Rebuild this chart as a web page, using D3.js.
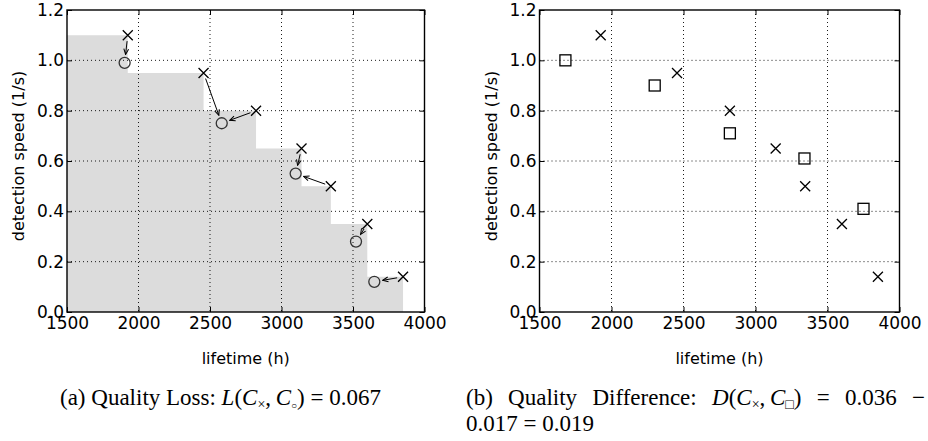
<!DOCTYPE html>
<html>
<head>
<meta charset="utf-8">
<script src="https://cdn.jsdelivr.net/npm/d3@7"></script>
<style>
  body { margin: 0; background: #fff; }
  svg { display: block; }
</style>
</head>
<body>
<svg id="fig" width="928" height="441"></svg>
<script>
(() => {
    const lifetimeTicks = [1500, 2000, 2500, 3000, 3500, 4000];
    const speedTicks = [0, 0.2, 0.4, 0.6, 0.8, 1.0, 1.2];

    // C× points, same in both panels
    const crossLifetime = [1925, 2455, 2822, 3140, 3345, 3600, 3850];
    const crossSpeed = [1.10, 0.95, 0.80, 0.65, 0.50, 0.35, 0.14];

    // C∘ points (left panel) and which circle each cross moves to
    const circleLifetime = [1903, 2582, 3099, 3521, 3649];
    const circleSpeed = [0.99, 0.75, 0.55, 0.28, 0.12];
    const crossToCircle = [0, 1, 1, 2, 2, 3, 4];

    // C□ points (right panel)
    const squareLifetime = [1680, 2300, 2822, 3340, 3750];
    const squareSpeed = [1.00, 0.90, 0.71, 0.61, 0.41];

    const top = 10, bottom = 312;
    const tickFont = "'DejaVu Sans', sans-serif";
    const circleR = 5.5;

    const svg = d3.select("#fig");

    svg.append("defs").append("marker")
        .attr("id", "head")
        .attr("markerUnits", "userSpaceOnUse")
        .attr("viewBox", "-7 -4 8 8")
        .attr("markerWidth", 8).attr("markerHeight", 8)
        .attr("refX", 0).attr("refY", 0)
        .attr("orient", "auto")
        .append("path")
        .attr("d", "M-5.5,-2.4L0,0L-5.5,2.4")
        .attr("fill", "none")
        .attr("stroke", "#000")
        .attr("stroke-width", 1);

    const crosses = crossLifetime.map((d, i) => ({ life: d, speed: crossSpeed[i] }));

    function panel(left, right) {
        const x = d3.scaleLinear().domain([1500, 4000]).range([left, right]);
        const y = d3.scaleLinear().domain([0, 1.2]).range([bottom, top]);
        const g = svg.append("g");
        const back = g.append("g");

        // dotted grid
        g.selectAll(".gx").data(lifetimeTicks.slice(1, -1)).enter().append("line")
            .attr("x1", d => x(d)).attr("x2", d => x(d))
            .attr("y1", top).attr("y2", bottom)
            .attr("stroke", "#000").attr("stroke-width", 0.9)
            .attr("stroke-dasharray", "1,3");
        g.selectAll(".gy").data(speedTicks.slice(1, -1)).enter().append("line")
            .attr("x1", left).attr("x2", right)
            .attr("y1", d => y(d)).attr("y2", d => y(d))
            .attr("stroke", "#000").attr("stroke-width", 0.9)
            .attr("stroke-dasharray", "1,3");

        const axes = [
            [d3.axisBottom(x).tickFormat(d3.format("d")), `translate(0,${bottom})`],
            [d3.axisLeft(y).tickFormat(d3.format(".1f")), `translate(${left},0)`],
            [d3.axisTop(x).tickFormat(""), `translate(0,${top})`],
            [d3.axisRight(y).tickFormat(""), `translate(${right},0)`]
        ];
        axes.forEach(([ax, tr], i) => {
            const a = g.append("g")
                .attr("transform", tr)
                .call(ax.tickValues(i % 2 === 0 ? lifetimeTicks : speedTicks)
                    .tickSizeInner(-5).tickSizeOuter(0).tickPadding(i === 0 ? 5 : 3));
            a.select(".domain").remove();
            a.selectAll("line").attr("stroke-width", 1);
            a.selectAll("text")
                .attr("font-family", tickFont)
                .attr("font-size", 17)
                .attr("fill", "#000");
        });

        g.append("rect")
            .attr("x", left).attr("y", top)
            .attr("width", right - left).attr("height", bottom - top)
            .attr("fill", "none").attr("stroke", "#000").attr("stroke-width", 1.4);

        g.append("text")
            .attr("x", (left + right) / 2).attr("y", 364)
            .attr("text-anchor", "middle")
            .attr("font-family", tickFont).attr("font-size", 16)
            .text("lifetime (h)");

        g.append("text")
            .attr("transform", `translate(${left - 43},${(top + bottom) / 2 - 5}) rotate(-90)`)
            .attr("text-anchor", "middle")
            .attr("font-family", tickFont).attr("font-size", 16)
            .text("detection speed (1/s)");

        return { g, back, x, y };
    }

    function drawCrosses(p) {
        p.g.selectAll(".cross").data(crosses).enter().append("path")
            .attr("transform", d => `translate(${p.x(d.life)},${p.y(d.speed)})`)
            .attr("d", "M-5,-5L5,5M-5,5L5,-5")
            .attr("stroke", "#000").attr("stroke-width", 1.3)
            .attr("fill", "none");
    }

    // ---- left panel: quality loss ----
    const pa = panel(67, 424.5);

    const areaPts = [{ life: 1500, speed: crossSpeed[0] }].concat(crosses);
    pa.back.append("path")
        .datum(areaPts)
        .attr("d", d3.area()
            .x(d => pa.x(d.life))
            .y0(pa.y(0))
            .y1(d => pa.y(d.speed))
            .curve(d3.curveStepBefore))
        .attr("fill", "#dcdcdc");

    const circles = circleLifetime.map((d, i) => ({ life: d, speed: circleSpeed[i] }));

    pa.g.selectAll(".arrow").data(crosses).enter().append("line")
        .each(function (d, i) {
            const c = circles[crossToCircle[i]];
            const x0 = pa.x(d.life), y0 = pa.y(d.speed);
            const x1 = pa.x(c.life), y1 = pa.y(c.speed);
            const len = Math.hypot(x1 - x0, y1 - y0);
            const ux = (x1 - x0) / len, uy = (y1 - y0) / len;
            d3.select(this)
                .attr("x1", x0 + ux * 6).attr("y1", y0 + uy * 6)
                .attr("x2", x1 - ux * (circleR + 3)).attr("y2", y1 - uy * (circleR + 3));
        })
        .attr("stroke", "#000").attr("stroke-width", 1)
        .attr("marker-end", "url(#head)");

    pa.g.selectAll(".circ").data(circles).enter().append("circle")
        .attr("cx", d => pa.x(d.life)).attr("cy", d => pa.y(d.speed))
        .attr("r", circleR)
        .attr("fill", "none").attr("stroke", "#333").attr("stroke-width", 1.3);

    drawCrosses(pa);

    // ---- right panel: quality difference ----
    const pb = panel(539.5, 899.5);

    const squares = squareLifetime.map((d, i) => ({ life: d, speed: squareSpeed[i] }));
    pb.g.selectAll(".sq").data(squares).enter().append("rect")
        .attr("x", d => pb.x(d.life) - 5.5).attr("y", d => pb.y(d.speed) - 5.5)
        .attr("width", 11).attr("height", 11)
        .attr("fill", "none").attr("stroke", "#000").attr("stroke-width", 1.3);

    drawCrosses(pb);

    // ---- captions ----
    const capFont = "'Liberation Serif', 'Times New Roman', serif";
    const capSize = 23, subSize = 14;

    function caption(x, y, parts) {
        const t = svg.append("text")
            .attr("x", x).attr("y", y)
            .attr("font-family", capFont).attr("font-size", capSize)
            .attr("fill", "#000");
        let shifted = false;
        parts.forEach(p => {
            const s = t.append("tspan").text(p.t);
            if (p.i) s.attr("font-style", "italic");
            if (p.sub) {
                s.attr("font-size", p.size || subSize);
                if (!shifted) { s.attr("dy", 4); shifted = true; }
            } else if (shifted) { s.attr("dy", -4); shifted = false; }
        });
        return t;
    }

    caption(60, 405, [
        { t: "(a) Quality Loss: " }, { t: "L", i: true }, { t: "(" },
        { t: "C", i: true }, { t: "×", sub: true }, { t: ",\u2009" },
        { t: "C", i: true }, { t: "○", sub: true, size: 10 }, { t: ") = 0.067" }
    ]);

    const lineB = caption(466, 405, [
        { t: "(b) Quality Difference: " }, { t: "D", i: true }, { t: "(" },
        { t: "C", i: true }, { t: "×", sub: true }, { t: ",\u2009" },
        { t: "C", i: true }, { t: "□", sub: true }, { t: ") = 0.036 −" }
    ]);
    // justify the first line of caption (b) like the typeset paper
    const natural = lineB.node().getComputedTextLength();
    const spaces = (lineB.text().match(/ /g) || []).length;
    lineB.attr("word-spacing", (925 - 466 - natural) / spaces);

    caption(466, 431, [{ t: "0.017 = 0.019" }]);
})();
</script>
</body>
</html>
